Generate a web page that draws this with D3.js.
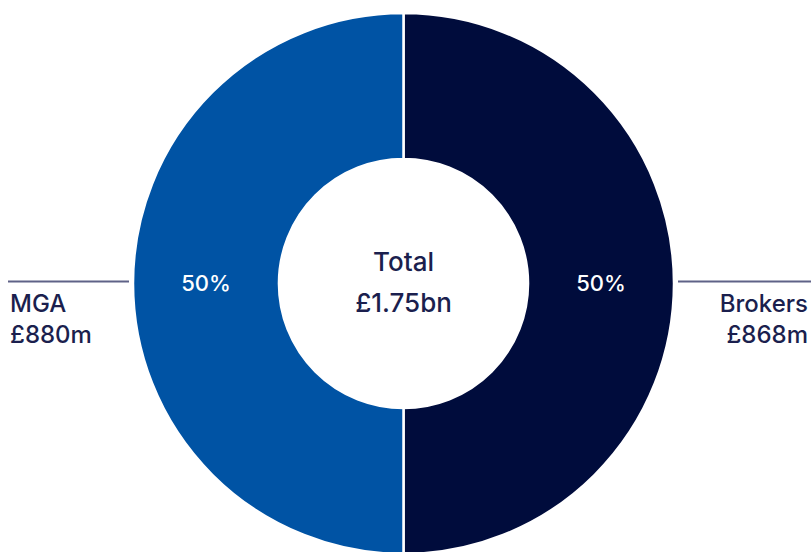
<!DOCTYPE html>
<html>
<head>
<meta charset="utf-8">
<script src="https://cdn.jsdelivr.net/npm/d3@7"></script>
<style>
  html, body { margin: 0; padding: 0; background: #ffffff; }
  svg { display: block; }
  text { font-family: Inter, "Open Sans", sans-serif; font-weight: 500; }
</style>
</head>
<body>
<svg id="chart" width="811" height="552"></svg>
<script>
// Data
const categories = ["Brokers", "MGA"];
const shares = [50, 50];                 // percentage share shown on the ring
const amountLabels = ["£868m", "£880m"]; // values shown beside the ring
const totalLabel = ["Total", "£1.75bn"];
const colors = ["#000c3c", "#0053a4"];

const width = 811, height = 552;
const cx = 403.5, cy = 283.5, outerR = 270.5, innerR = 124.5;

const svg = d3.select("#chart");
const g = svg.append("g").attr("transform", `translate(${cx},${cy})`);

const pie = d3.pie().sort(null).value(d => d.share);
const data = categories.map((c, i) => ({ name: c, share: shares[i], amount: amountLabels[i], color: colors[i] }));
const arcs = pie(data);
const arc = d3.arc().innerRadius(innerR).outerRadius(outerR);

g.selectAll("path.slice")
  .data(arcs)
  .join("path")
  .attr("class", "slice")
  .attr("d", arc)
  .attr("fill", d => d.data.color)
  .attr("stroke", "#ffffff")
  .attr("stroke-width", 2.5);

// percentage labels at centroids
g.selectAll("text.pct")
  .data(arcs)
  .join("text")
  .attr("class", "pct")
  .attr("x", d => arc.centroid(d)[0])
  .attr("y", d => arc.centroid(d)[1])
  .attr("dy", "0.36em")
  .attr("text-anchor", "middle")
  .attr("fill", "#ffffff")
  .attr("font-size", 22)
  .text(d => d.data.share + "%");

// center total
g.append("text")
  .attr("text-anchor", "middle")
  .attr("fill", "#1b1f4e")
  .attr("font-size", 26)
  .selectAll("tspan")
  .data(totalLabel)
  .join("tspan")
  .attr("x", 0)
  .attr("y", (d, i) => -13 + i * 41)
  .text(d => d);

// leader lines + side labels
const ink = "#1b1f4e";
const lineColor = "#5f6287";
const side = [
  { idx: 1, x1: 8, x2: 129, tx: 10, anchor: "start" },
  { idx: 0, x1: 678, x2: 811, tx: 808, anchor: "end" }
];
const lineY = 281.5;
side.forEach(s => {
  svg.append("line")
    .attr("x1", s.x1).attr("x2", s.x2)
    .attr("y1", lineY).attr("y2", lineY)
    .attr("stroke", lineColor).attr("stroke-width", 2);
  const t = svg.append("text")
    .attr("text-anchor", s.anchor)
    .attr("fill", ink)
    .attr("font-size", 24);
  [categories[s.idx], amountLabels[s.idx]].forEach((line, i) => {
    t.append("tspan").attr("x", s.tx).attr("y", 312 + i * 31).text(line);
  });
});
</script>
</body>
</html>
